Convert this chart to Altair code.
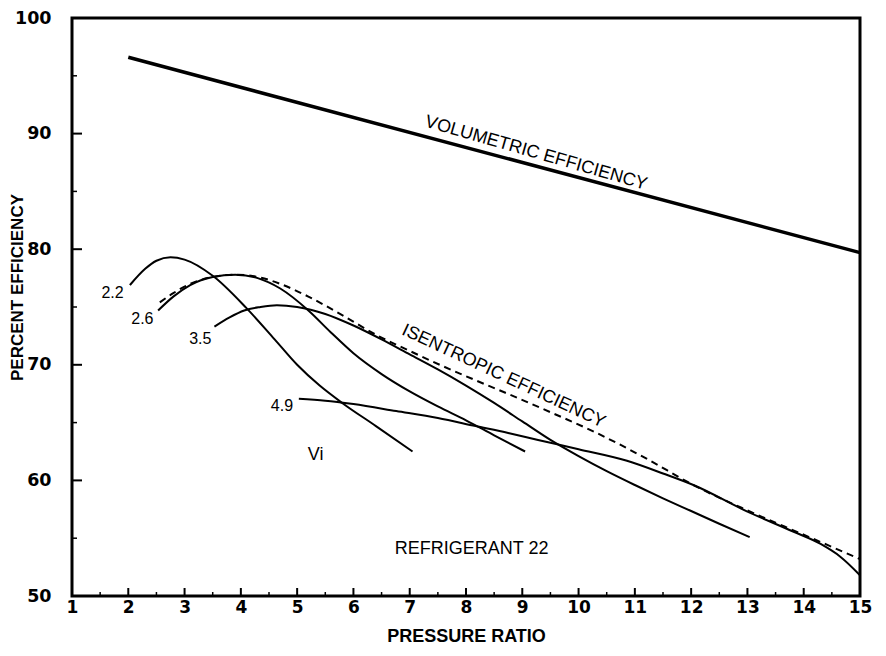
import altair as alt
import pandas as pd

# ---------------- data ----------------
vol_x = [2.0, 15.0]
vol_y = [96.6, 79.7]

vi22_x = [2.03, 2.3, 2.5, 2.75, 3.0, 3.5, 4.1, 4.6, 5.0, 5.4, 5.8, 6.4, 7.05]
vi22_y = [76.9, 78.3, 79.0, 79.3, 79.1, 77.7, 74.9, 72.2, 70.0, 68.2, 66.7, 64.7, 62.5]

vi26_x = [2.53, 2.8, 3.1, 3.5, 3.9, 4.3, 4.7, 5.2, 5.6, 6.0, 6.5, 7.0, 7.5, 8.0, 8.5, 9.05]
vi26_y = [74.7, 75.9, 76.9, 77.6, 77.8, 77.5, 76.6, 74.7, 72.8, 71.0, 69.2, 67.7, 66.4, 65.2, 63.9, 62.5]

vi35_x = [3.53, 3.8, 4.06, 4.35, 4.64, 5.0, 5.5, 6.0, 6.5, 7.0, 7.5, 8.0, 8.5, 9.0, 9.5, 10.0, 10.5, 11.0, 11.5, 12.0, 12.5, 13.04]
vi35_y = [73.3, 74.1, 74.7, 75.0, 75.15, 75.0, 74.4, 73.4, 72.2, 70.9, 69.6, 68.2, 66.7, 65.1, 63.5, 62.1, 60.8, 59.6, 58.45, 57.35, 56.25, 55.1]

vi49_x = [5.03, 5.5, 6.0, 6.76, 7.5, 8.17, 8.75, 9.28, 10.0, 10.86, 11.5, 12.04, 13.0, 13.8, 14.3, 14.65, 15.0]
vi49_y = [67.06, 66.9, 66.6, 66.0, 65.4, 64.7, 64.1, 63.5, 62.7, 61.7, 60.6, 59.6, 57.3, 55.6, 54.5, 53.4, 51.8]

iso_x = [2.56, 2.8, 3.1, 3.5, 3.9, 4.3, 4.7, 5.2, 5.8, 6.4, 7.0, 7.58, 8.2, 8.69, 9.5, 10.28, 11.2, 12.04, 13.0, 14.0, 15.0]
iso_y = [75.4, 76.2, 77.0, 77.6, 77.8, 77.6, 77.0, 75.9, 74.3, 72.6, 71.2, 69.9, 68.6, 67.6, 65.9, 64.2, 61.9, 59.6, 57.4, 55.3, 53.2]

x_ticks = list(range(1, 16))
x_major_inner = list(range(2, 15))
x_minor = [v + 0.5 for v in range(1, 15)]
y_ticks = [50, 60, 70, 80, 90, 100]
y_major_inner = [60, 70, 80, 90]
y_minor = [55, 65, 75, 85, 95]

num_labels = ["2.2", "2.6", "3.5", "4.9"]
num_lx = [1.72, 2.25, 3.28, 4.73]
num_ly = [76.2, 74.0, 72.2, 66.4]

word_labels = ["Vi", "REFRIGERANT 22"]
word_lx = [5.33, 8.1]
word_ly = [62.2, 54.1]

vol_label = ["VOLUMETRIC EFFICIENCY"]
vol_lx = [9.2]
vol_ly = [87.55]
iso_label = ["ISENTROPIC EFFICIENCY"]
iso_lx = [8.6]
iso_ly = [68.3]

FONT = "Liberation Sans"
TICKFONT = "DejaVu Sans"

# ---------------- build tables ----------------
def curve(name, xs, ys):
    return pd.DataFrame({"series": name, "x": xs, "y": ys})

vi_df = pd.concat([
    curve("2.2", vi22_x, vi22_y),
    curve("2.6", vi26_x, vi26_y),
    curve("3.5", vi35_x, vi35_y),
    curve("4.9", vi49_x, vi49_y),
])
vol_df = curve("vol", vol_x, vol_y)
iso_df = curve("iso", iso_x, iso_y)

W, H = 788, 578

xscale = alt.Scale(domain=[1, 15], nice=False, zero=False)
yscale = alt.Scale(domain=[50, 100], nice=False, zero=False)

xaxis = alt.Axis(values=x_ticks, title="PRESSURE RATIO", ticks=False, domain=False, grid=False,
                 labelFont=TICKFONT, labelFontSize=17, labelFontWeight="bold", labelColor="black",
                 labelPadding=3, labelFlush=False, format="d",
                 titleFont=FONT, titleFontSize=18, titleFontWeight="bold", titleColor="black",
                 titlePadding=12)
yaxis = alt.Axis(values=y_ticks, title="PERCENT EFFICIENCY", ticks=False, domain=False, grid=False,
                 labelFont=TICKFONT, labelFontSize=17.5, labelFontWeight="bold", labelColor="black",
                 labelPadding=21, labelFlush=False, format="d",
                 titleFont=FONT, titleFontSize=17, titleFontWeight="bold", titleColor="black",
                 titleX=-46, titleY=H / 2 - 20)

X = alt.X("x:Q", scale=xscale, axis=xaxis)
Y = alt.Y("y:Q", scale=yscale, axis=yaxis)

vol = alt.Chart(vol_df).mark_line(color="black", strokeWidth=3.5).encode(x=X, y=Y)
vi = alt.Chart(vi_df).mark_line(color="black", strokeWidth=2, interpolate="monotone").encode(
    x=X, y=Y, detail="series:N")
iso = alt.Chart(iso_df).mark_line(color="black", strokeWidth=2, strokeDash=[7, 5],
                                  interpolate="monotone").encode(x=X, y=Y)

# inside tick marks
xmaj = alt.Chart(pd.DataFrame({"x": x_major_inner})).mark_rule(color="black", strokeWidth=2).encode(
    x=alt.X("x:Q", scale=xscale), y=alt.value(H), y2=alt.value(H - 8))
xmin = alt.Chart(pd.DataFrame({"x": x_minor})).mark_rule(color="black", strokeWidth=1.5).encode(
    x=alt.X("x:Q", scale=xscale), y=alt.value(H), y2=alt.value(H - 4))
ymaj = alt.Chart(pd.DataFrame({"y": y_major_inner})).mark_rule(color="black", strokeWidth=2).encode(
    y=alt.Y("y:Q", scale=yscale), x=alt.value(0), x2=alt.value(10))
ymin = alt.Chart(pd.DataFrame({"y": y_minor})).mark_rule(color="black", strokeWidth=1.5).encode(
    y=alt.Y("y:Q", scale=yscale), x=alt.value(0), x2=alt.value(5))

num_lab = alt.Chart(pd.DataFrame({"t": num_labels, "x": num_lx, "y": num_ly})).mark_text(
    font=FONT, fontSize=16, color="black").encode(
    x=alt.X("x:Q", scale=xscale), y=alt.Y("y:Q", scale=yscale), text="t:N")
word_lab = alt.Chart(pd.DataFrame({"t": word_labels, "x": word_lx, "y": word_ly})).mark_text(
    font=FONT, fontSize=18, color="black").encode(
    x=alt.X("x:Q", scale=xscale), y=alt.Y("y:Q", scale=yscale), text="t:N")

vol_lab = alt.Chart(pd.DataFrame({"t": vol_label, "x": vol_lx, "y": vol_ly})).mark_text(
    font=FONT, fontSize=18, color="black", angle=16, baseline="bottom").encode(
    x=alt.X("x:Q", scale=xscale), y=alt.Y("y:Q", scale=yscale), text="t:N")
iso_lab = alt.Chart(pd.DataFrame({"t": iso_label, "x": iso_lx, "y": iso_ly})).mark_text(
    font=FONT, fontSize=18, color="black", angle=25, baseline="bottom").encode(
    x=alt.X("x:Q", scale=xscale), y=alt.Y("y:Q", scale=yscale), text="t:N")

chart = alt.layer(vol, vi, iso, xmaj, xmin, ymaj, ymin, num_lab, word_lab, vol_lab, iso_lab).properties(
    width=W, height=H,
    padding={"left": 64, "top": 10, "right": 18, "bottom": 52},
    autosize=alt.AutoSizeParams(type="none"),
    background="white",
).configure_view(stroke="black", strokeWidth=3)

chart.save("out.html", embed_options={"renderer": "svg", "actions": False})
